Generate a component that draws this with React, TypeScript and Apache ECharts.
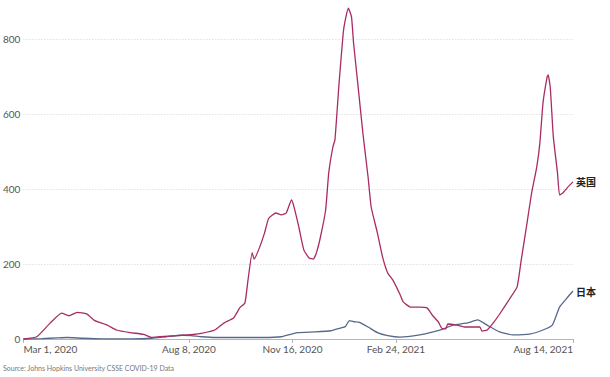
import React, { useEffect, useRef } from "react";
import * as echarts from "echarts";

const ukDates = [
  "2020-03-01", "2020-03-14", "2020-03-27", "2020-04-07", "2020-04-14", "2020-04-22", "2020-05-01", "2020-05-09",
  "2020-05-21", "2020-05-30", "2020-06-12", "2020-06-25", "2020-07-03", "2020-07-11", "2020-07-27", "2020-08-12",
  "2020-08-20", "2020-09-02", "2020-09-11", "2020-09-20", "2020-09-26", "2020-10-01", "2020-10-04", "2020-10-08",
  "2020-10-10", "2020-10-15", "2020-10-20", "2020-10-24", "2020-10-31", "2020-11-05", "2020-11-10", "2020-11-15",
  "2020-11-17", "2020-11-22", "2020-11-27", "2020-12-02", "2020-12-06", "2020-12-09", "2020-12-13", "2020-12-18",
  "2020-12-21", "2020-12-25", "2020-12-27", "2020-12-31", "2021-01-04", "2021-01-06", "2021-01-09", "2021-01-12",
  "2021-01-14", "2021-01-18", "2021-01-23", "2021-01-28", "2021-01-31", "2021-02-06", "2021-02-11", "2021-02-16",
  "2021-02-21", "2021-02-28", "2021-03-03", "2021-03-10", "2021-03-19", "2021-03-26", "2021-03-31", "2021-04-06",
  "2021-04-09", "2021-04-13", "2021-04-15", "2021-04-24", "2021-05-02", "2021-05-09", "2021-05-16", "2021-05-18",
  "2021-05-23", "2021-05-29", "2021-06-04", "2021-06-14", "2021-06-21", "2021-06-25", "2021-06-30", "2021-07-05",
  "2021-07-10", "2021-07-13", "2021-07-16", "2021-07-20", "2021-07-21", "2021-07-23", "2021-07-26", "2021-07-30",
  "2021-08-01", "2021-08-04", "2021-08-09", "2021-08-14",
];
const ukValues = [
  0, 6, 43, 69, 62, 71, 67, 49,
  37, 24, 17, 12.5, 4.5, 6.5, 9, 12,
  15, 24, 43, 56, 83, 96, 157, 230,
  213, 243, 283, 322, 336, 331, 336, 371,
  357, 300, 237, 216, 213, 229, 272, 344,
  443, 512, 531, 683, 816, 851, 882, 859,
  789, 683, 549, 432, 352, 283, 219, 176,
  157, 118, 99, 85, 85, 83, 64, 45,
  29, 27, 40, 37, 32, 32, 32, 21,
  24, 43, 66, 108, 139, 211, 299, 389,
  459, 523, 629, 699, 704, 672, 539, 443,
  384, 389, 405, 419,
];

const jpDates = [
  "2020-03-01", "2020-03-19", "2020-04-03", "2020-04-12", "2020-04-27", "2020-05-16", "2020-06-14", "2020-07-03",
  "2020-07-17", "2020-08-01", "2020-08-10", "2020-08-20", "2020-09-03", "2020-09-24", "2020-10-19", "2020-11-05",
  "2020-11-21", "2020-12-07", "2020-12-23", "2021-01-01", "2021-01-06", "2021-01-10", "2021-01-14", "2021-01-19",
  "2021-01-28", "2021-02-06", "2021-02-16", "2021-02-28", "2021-03-19", "2021-04-01", "2021-04-11", "2021-04-20",
  "2021-05-04", "2021-05-14", "2021-05-23", "2021-06-04", "2021-06-17", "2021-07-03", "2021-07-16", "2021-07-25",
  "2021-08-01", "2021-08-09", "2021-08-14",
];
const jpValues = [
  0, 1, 3, 4, 2, 0.5, 0.5, 2,
  6, 10, 9, 6, 4, 4, 4, 6,
  17, 19, 22, 29, 33, 49, 46, 45,
  32, 17, 9, 5, 11, 19, 27, 37,
  43, 51, 37, 19, 11, 13, 24, 37,
  85, 112, 128,
];

const tickDates = ["2020-03-01", "2020-08-08", "2020-11-16", "2021-02-24", "2021-08-14"];
const monthNames = ["Jan", "Feb", "Mar", "Apr", "May", "Jun", "Jul", "Aug", "Sep", "Oct", "Nov", "Dec"];
const seriesNames = ["英国", "日本"];
const sourceText = "Source: Johns Hopkins University CSSE COVID-19 Data";

export default function App() {
  const ref = useRef<HTMLDivElement>(null);
  useEffect(() => {
    if (!ref.current) return;
    const chart = echarts.init(ref.current, null, { renderer: "svg" });
    const toTs = (s: string) => {
      const [y, m, d] = s.split("-").map(Number);
      return new Date(y, m - 1, d).getTime();
    };
    const tickTs = tickDates.map(toTs);
    const font = "Lato, 'Noto Sans', sans-serif";
    const cjk = "'Noto Sans CJK SC', sans-serif";
    chart.setOption({
      animation: false,
      grid: { left: 21, right: 37, top: 39, bottom: 38, containLabel: false },
      xAxis: {
        type: "value",
        min: tickTs[0],
        max: tickTs[tickTs.length - 1],
        axisLine: { show: true, onZero: false, lineStyle: { color: "#b5b5b5", width: 1 } },
        axisTick: { show: true, customValues: tickTs, length: 4, lineStyle: { color: "#b5b5b5" } },
        axisLabel: {
          customValues: tickTs,
          fontFamily: font,
          fontSize: 10,
          color: "#555",
          margin: 5,
          alignMinLabel: "left",
          alignMaxLabel: "right",
          formatter: (v: number) => {
            const d = new Date(v);
            return `${monthNames[d.getMonth()]} ${d.getDate()}, ${d.getFullYear()}`;
          },
        },
        splitLine: { show: false },
      },
      yAxis: {
        type: "value",
        min: 0,
        max: 800,
        interval: 200,
        axisLine: { show: false },
        axisTick: { show: false },
        axisLabel: { fontFamily: font, fontSize: 10, color: "#555", margin: 3 },
        splitLine: { show: true, lineStyle: { color: "#d4d4d4", type: [1, 2], width: 1 } },
      },
      series: [
        {
          name: seriesNames[0],
          type: "line",
          clip: false,
          showSymbol: false,
          smooth: 0.15,
          data: ukDates.map((d, i) => [toTs(d), ukValues[i]]),
          lineStyle: { color: "#a82c63", width: 1.3 },
          itemStyle: { color: "#a82c63" },
          endLabel: {
            show: true,
            formatter: seriesNames[0],
            fontFamily: cjk,
            fontWeight: "bold",
            fontSize: 10,
            color: "#222",
            distance: 3,
          },
          z: 3,
        },
        {
          name: seriesNames[1],
          type: "line",
          clip: false,
          showSymbol: false,
          smooth: 0.15,
          data: jpDates.map((d, i) => [toTs(d), jpValues[i]]),
          lineStyle: { color: "#56698b", width: 1.3 },
          itemStyle: { color: "#56698b" },
          endLabel: {
            show: true,
            formatter: seriesNames[1],
            fontFamily: cjk,
            fontWeight: "bold",
            fontSize: 10,
            color: "#222",
            distance: 3,
          },
          z: 2,
        },
      ],
      graphic: [
        {
          type: "text",
          left: 3,
          top: 364,
          style: { text: sourceText, fontFamily: font, fontSize: 7, fill: "#777" },
        },
      ],
    });
    return () => chart.dispose();
  }, []);
  return <div ref={ref} style={{ width: 610, height: 377, position: "absolute", left: 0, top: 0 }} />;
}
